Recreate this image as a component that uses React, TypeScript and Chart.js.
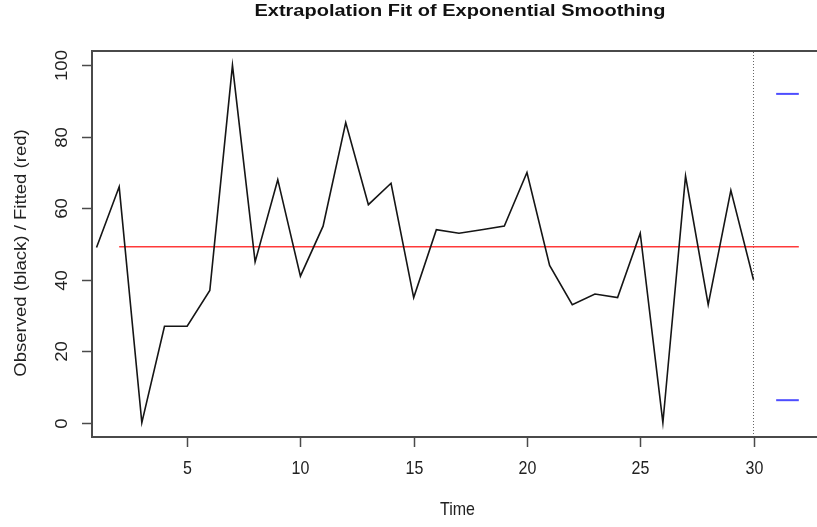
import React, { useEffect, useRef } from "react";
import { Chart, registerables } from "chart.js";

Chart.register(...registerables);

const times = [1,2,3,4,5,6,7,8,9,10,11,12,13,14,15,16,17,18,19,20,21,22,23,24,25,26,27,28,29,30];
const observed = [49,66,0,27,27,37,100,45,68,41,55,84,61,67,35,54,53,54,55,70,44,33,36,35,53,0,69,33,65,40];
const fittedTimes = [2,3,4,5,6,7,8,9,10,11,12,13,14,15,16,17,18,19,20,21,22,23,24,25,26,27,28,29,30,31,32];
const fittedValues = [49.2,49.2,49.2,49.2,49.2,49.2,49.2,49.2,49.2,49.2,49.2,49.2,49.2,49.2,49.2,49.2,49.2,49.2,49.2,49.2,49.2,49.2,49.2,49.2,49.2,49.2,49.2,49.2,49.2,49.2,49.2];
const forecastTimes = [31, 32];
const upperBand = [92, 92];
const lowerBand = [6.3, 6.3];
const cutoffTime = 30;
const xTicks = [5, 10, 15, 20, 25, 30];
const yTicks = [0, 20, 40, 60, 80, 100];
const xRange = [0.8, 33.2];
const yRange = [-4, 104];

const title = "Extrapolation Fit of Exponential Smoothing";
const xLabel = "Time";
const yLabel = "Observed (black) / Fitted (red)";

const FONT = '"Liberation Sans", Arial, Helvetica, sans-serif';
const STRETCH = 1.16;

function hText(ctx: CanvasRenderingContext2D, s: string, x: number, y: number, sy: number) {
  ctx.save();
  ctx.translate(x, y);
  ctx.scale(1, sy);
  ctx.fillText(s, 0, 0);
  ctx.restore();
}

function vText(ctx: CanvasRenderingContext2D, s: string, x: number, y: number, sl: number) {
  ctx.save();
  ctx.translate(x, y);
  ctx.rotate(-Math.PI / 2);
  ctx.scale(sl, 1);
  ctx.fillText(s, 0, 0);
  ctx.restore();
}

const rAxesPlugin = {
  id: "rAxes",
  afterDatasetsDraw(chart: any) {
    const { ctx, chartArea, scales } = chart;
    const xs = scales.x;
    const ys = scales.y;
    ctx.save();
    ctx.strokeStyle = "#4a4a4a";
    ctx.lineWidth = 2;
    ctx.strokeRect(chartArea.left, chartArea.top, chartArea.right - chartArea.left, chartArea.bottom - chartArea.top);
    ctx.lineWidth = 1.5;
    ctx.fillStyle = "#222";
    ctx.font = "16px " + FONT;
    ctx.textAlign = "center";
    ctx.textBaseline = "alphabetic";
    for (const t of xTicks) {
      const px = Math.round(xs.getPixelForValue(t)) + 0.5;
      ctx.beginPath();
      ctx.moveTo(px, chartArea.bottom);
      ctx.lineTo(px, chartArea.bottom + 10);
      ctx.stroke();
      hText(ctx, String(t), px, 474, STRETCH);
    }
    for (const t of yTicks) {
      const py = Math.round(ys.getPixelForValue(t)) + 0.5;
      ctx.beginPath();
      ctx.moveTo(chartArea.left, py);
      ctx.lineTo(chartArea.left - 10, py);
      ctx.stroke();
      vText(ctx, String(t), 67, py, STRETCH);
    }
    hText(ctx, xLabel, 457.5, 515, STRETCH);
    vText(ctx, yLabel, 26, 253, STRETCH);
    ctx.font = "bold 20px " + FONT;
    ctx.fillStyle = "#111";
    hText(ctx, title, 460, 16, 0.87);
    ctx.restore();
  },
};

export default function App() {
  const ref = useRef<HTMLCanvasElement | null>(null);
  useEffect(() => {
    document.body.style.margin = "0";
    const canvas = ref.current!;
    const chart = new Chart(canvas, {
      type: "line",
      data: {
        datasets: [
          {
            label: "Observed",
            data: times.map((t, i) => ({ x: t, y: observed[i] })),
            borderColor: "#151515",
            borderWidth: 1.6,
            pointRadius: 0,
            tension: 0,
          },
          {
            label: "Fitted",
            data: fittedTimes.map((t, i) => ({ x: t, y: fittedValues[i] })),
            borderColor: "#ff3a3a",
            borderWidth: 1.5,
            pointRadius: 0,
            tension: 0,
          },
          {
            label: "Upper",
            data: forecastTimes.map((t, i) => ({ x: t, y: upperBand[i] })),
            borderColor: "#4d4dff",
            borderWidth: 2,
            pointRadius: 0,
          },
          {
            label: "Lower",
            data: forecastTimes.map((t, i) => ({ x: t, y: lowerBand[i] })),
            borderColor: "#4d4dff",
            borderWidth: 2,
            pointRadius: 0,
          },
          {
            label: "Cutoff",
            data: [
              { x: cutoffTime, y: yRange[0] },
              { x: cutoffTime, y: yRange[1] },
            ],
            borderColor: "#666",
            borderWidth: 1,
            borderDash: [1, 2],
            pointRadius: 0,
          },
        ],
      },
      options: {
        animation: false,
        responsive: false,
        devicePixelRatio: 1,
        layout: { padding: { left: 92, top: 51, right: 14, bottom: 90 } },
        plugins: { legend: { display: false }, tooltip: { enabled: false }, title: { display: false } },
        scales: {
          x: { type: "linear", min: xRange[0], max: xRange[1], display: false },
          y: { type: "linear", min: yRange[0], max: yRange[1], display: false },
        },
      },
      plugins: [rAxesPlugin],
    });
    return () => chart.destroy();
  }, []);
  return (
    <div style={{ position: "fixed", left: 0, top: 0, width: 817, height: 527, overflow: "hidden", background: "#fff" }}>
      <canvas ref={ref} width={840} height={527} style={{ width: 840, height: 527, display: "block" }} />
    </div>
  );
}
